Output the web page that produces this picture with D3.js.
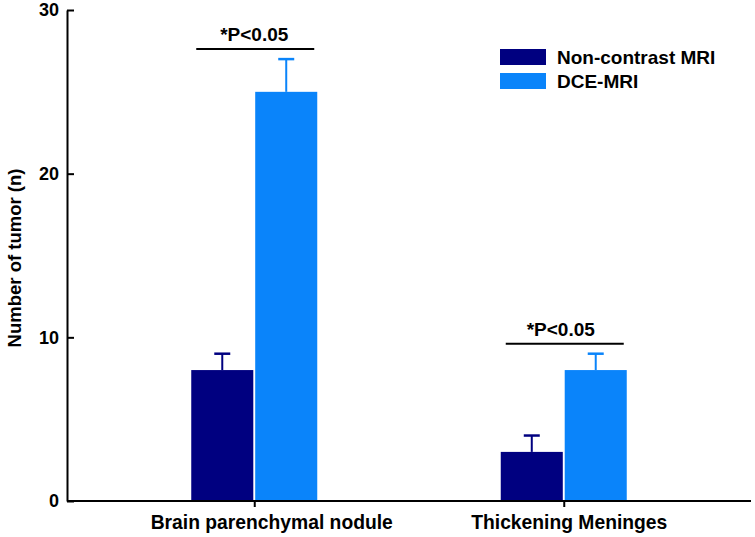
<!DOCTYPE html>
<html><head><meta charset="utf-8">
<script src="https://cdn.jsdelivr.net/npm/d3@7"></script>
<style>body{margin:0;background:#fff}svg{display:block;font-family:Arial,"Liberation Sans",sans-serif;font-weight:bold}</style>
</head><body><svg id="c" width="755" height="537"></svg>
<script>
const categories = ["Brain parenchymal nodule", "Thickening Meninges"];
const series = ["Non-contrast MRI", "DCE-MRI"];
const nonContrast = [8, 3];
const nonContrastErr = [1, 1];
const dce = [25, 8];
const dceErr = [2, 1];
const yTicks = [0, 10, 20, 30];
const sigLabel = "*P<0.05";
const colors = ["#000080", "#0A84FA"];

const FONT = "Arial, Liberation Sans, sans-serif";
const svg = d3.select("#c");
const L = 67, R = 751, T = 10, B = 501;
const y = d3.scaleLinear().domain([0, 30]).range([B, T]);
const x = d3.scalePoint().domain(categories).range([L, R]).padding(0.605);
const xs = d3.scaleBand().domain(series).range([-63, 63]).paddingInner(0.03);
const color = d3.scaleOrdinal().domain(series).range(colors);

const vals = [nonContrast, dce], errs = [nonContrastErr, dceErr];
const data = [];
categories.forEach((c, i) => series.forEach((s, j) => data.push({c, s, v: vals[j][i], e: errs[j][i]})));

// error bars (behind bars)
const eb = svg.append("g");
data.forEach(d => {
  const cx = x(d.c) + xs(d.s) + xs.bandwidth() / 2;
  eb.append("line").attr("x1", cx).attr("x2", cx).attr("y1", y(d.v)).attr("y2", y(d.v + d.e))
    .attr("stroke", color(d.s)).attr("stroke-width", 2);
  eb.append("line").attr("x1", cx - 8).attr("x2", cx + 8).attr("y1", y(d.v + d.e)).attr("y2", y(d.v + d.e))
    .attr("stroke", color(d.s)).attr("stroke-width", 2.5);
});
svg.append("g").selectAll("rect").data(data).join("rect")
  .attr("x", d => x(d.c) + xs(d.s)).attr("width", xs.bandwidth())
  .attr("y", d => y(d.v)).attr("height", d => y(0) - y(d.v))
  .attr("fill", d => color(d.s));

// axes
const ya = svg.append("g").attr("transform", `translate(${L},0)`)
  .call(d3.axisLeft(y).tickValues(yTicks).tickSizeInner(-7).tickSizeOuter(0).tickPadding(8));
ya.select(".domain").attr("stroke", "#000").attr("stroke-width", 2);
ya.selectAll(".tick line").attr("stroke-width", 2);
ya.selectAll(".tick text").attr("font-size", 18).attr("font-weight", "bold").attr("font-family", FONT);
const xa = svg.append("g").attr("transform", `translate(0,${B})`)
  .call(d3.axisBottom(x).tickSizeInner(6).tickSizeOuter(0).tickPadding(8));
xa.select(".domain").attr("d", `M${L},0H${R}`).attr("stroke", "#000").attr("stroke-width", 2);
xa.selectAll(".tick line").attr("stroke-width", 2);
const labelShift = [17, 5];
xa.selectAll(".tick text").attr("font-size", 19.3).attr("font-weight", "bold").attr("font-family", FONT)
  .attr("dx", (d, i) => labelShift[i]);

svg.append("text").attr("transform", `translate(21,258) rotate(-90)`)
  .attr("text-anchor", "middle").attr("font-size", 18.5).text("Number of tumor (n)");

// significance
const sigShift = [0, -3];
categories.forEach((c, i) => {
  const top = Math.max(nonContrast[i] + nonContrastErr[i], dce[i] + dceErr[i]);
  const ly = y(top) - 10;
  svg.append("line").attr("x1", x(c) - 58).attr("x2", x(c) + 60).attr("y1", ly).attr("y2", ly)
    .attr("stroke", "#000").attr("stroke-width", 2);
  svg.append("text").attr("x", x(c) + sigShift[i]).attr("y", ly - 8).attr("text-anchor", "middle")
    .attr("font-size", 19).text(sigLabel);
});

// legend
const lg = svg.append("g").attr("transform", "translate(500,49)");
series.forEach((s, i) => {
  lg.append("rect").attr("x", 0).attr("y", i * 24).attr("width", 46).attr("height", 16).attr("fill", color(s));
  lg.append("text").attr("x", 57).attr("y", i * 23.5 + 15).attr("font-size", 19).text(s);
});
</script></body></html>
